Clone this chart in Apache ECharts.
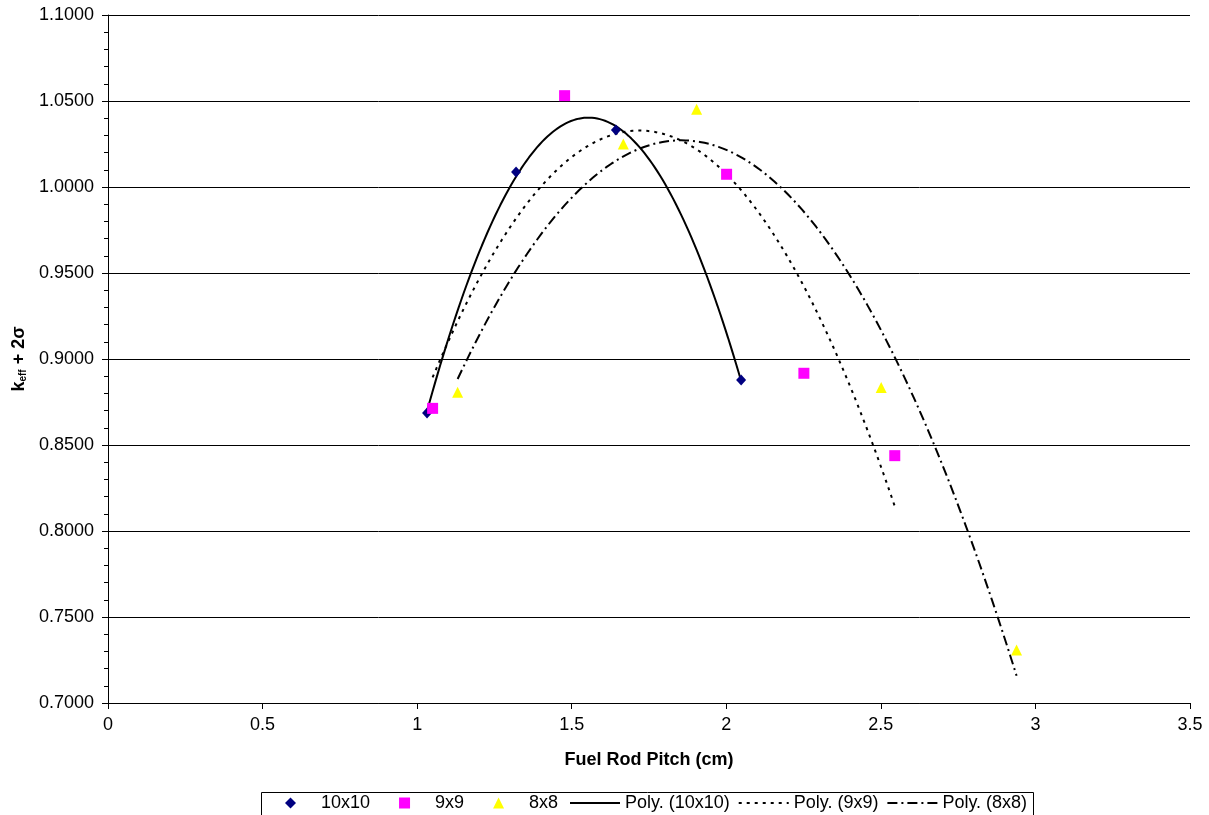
<!DOCTYPE html>
<html>
<head>
<meta charset="utf-8">
<script src="https://cdn.jsdelivr.net/npm/echarts@6/dist/echarts.min.js"></script>
<style>
  html, body { margin: 0; padding: 0; background: #ffffff; }
  #chart { width: 1209px; height: 815px; }
</style>
</head>
<body>
<div id="chart"></div>
<script>
// Fuel rod pitch (cm) and k_eff + 2 sigma for each lattice
const pitch10x10 = [1.032, 1.320, 1.643, 2.048];
const keff10x10  = [0.8686, 1.0087, 1.0331, 0.8878];

const pitch9x9 = [1.050, 1.477, 2.001, 2.251, 2.545];
const keff9x9  = [0.8713, 1.0531, 1.0074, 0.8917, 0.8438];

const pitch8x8 = [1.131, 1.667, 1.904, 2.501, 2.939];
const keff8x8  = [0.8806, 1.0250, 1.0452, 0.8835, 0.7308];

const latticeNames = ['10x10', '9x9', '8x8'];
const trendNames = ['Poly. (10x10)', 'Poly. (9x9)', 'Poly. (8x8)'];

const FONT = "'Liberation Sans', Arial, Helvetica, sans-serif";

function pairs(xs, ys) {
  return xs.map((x, i) => [x, ys[i]]);
}

// Second-order least-squares polynomial trendline, y = a + b x + c x^2
function quadFit(xs, ys) {
  const S = [0, 0, 0, 0, 0];
  const T = [0, 0, 0];
  xs.forEach((x, i) => {
    for (let k = 0; k < 5; k++) S[k] += Math.pow(x, k);
    for (let k = 0; k < 3; k++) T[k] += ys[i] * Math.pow(x, k);
  });
  const M = [[S[0], S[1], S[2], T[0]], [S[1], S[2], S[3], T[1]], [S[2], S[3], S[4], T[2]]];
  for (let c = 0; c < 3; c++) {
    let p = c;
    for (let r = c + 1; r < 3; r++) if (Math.abs(M[r][c]) > Math.abs(M[p][c])) p = r;
    [M[c], M[p]] = [M[p], M[c]];
    for (let r = 0; r < 3; r++) {
      if (r === c) continue;
      const f = M[r][c] / M[c][c];
      for (let k = c; k < 4; k++) M[r][k] -= f * M[c][k];
    }
  }
  return [M[0][3] / M[0][0], M[1][3] / M[1][1], M[2][3] / M[2][2]];
}

// Trendline drawn across the span of its own series
function trendline(xs, ys) {
  const [a, b, c] = quadFit(xs, ys);
  const lo = Math.min(...xs), hi = Math.max(...xs);
  const out = [];
  const n = 120;
  for (let i = 0; i <= n; i++) {
    const x = lo + (hi - lo) * i / n;
    out.push([x, a + b * x + c * x * x]);
  }
  return out;
}

const chart = echarts.init(document.getElementById('chart'), null, { renderer: 'canvas' });

const lineSeries = (name, data, type) => ({
  name: name,
  type: 'line',
  data: data,
  symbol: 'none',
  showSymbol: false,
  smooth: false,
  z: 2,
  silent: true,
  // transparent item colour keeps the legend line free of a marker dot
  itemStyle: { color: 'rgba(0,0,0,0)', borderColor: 'rgba(0,0,0,0)', borderWidth: 0 },
  lineStyle: { color: '#000000', width: 2, type: type },
  emphasis: { disabled: true }
});

const scatterSeries = (name, data, symbol, size, color) => ({
  name: name,
  type: 'scatter',
  data: data,
  symbol: symbol,
  symbolSize: size,
  z: 3,
  itemStyle: { color: color, opacity: 1 },
  emphasis: { disabled: true }
});

const legendText = { fontFamily: FONT, fontSize: 18, color: '#000' };

chart.setOption({
  animation: false,
  backgroundColor: '#ffffff',
  grid: { left: 108, right: 19, top: 15, bottom: 112, containLabel: false },
  xAxis: {
    type: 'value',
    min: 0,
    max: 3.5,
    interval: 0.5,
    name: 'Fuel Rod Pitch (cm)',
    nameLocation: 'middle',
    nameGap: 48,
    nameTextStyle: { fontFamily: FONT, fontSize: 18, fontWeight: 'bold', color: '#000' },
    axisLine: { show: true, onZero: false, lineStyle: { color: '#000', width: 1 } },
    axisTick: { show: true, inside: false, length: 6, lineStyle: { color: '#000', width: 1 } },
    axisLabel: { fontFamily: FONT, fontSize: 18, color: '#000', margin: 13 },
    splitLine: { show: false }
  },
  yAxis: {
    type: 'value',
    min: 0.7,
    max: 1.1,
    interval: 0.05,
    name: '{k|k}{s|eff}{n| + 2σ}',
    nameLocation: 'middle',
    nameRotate: 90,
    nameGap: 77,
    nameTextStyle: {
      rich: {
        k: { fontFamily: FONT, fontSize: 18, fontWeight: 'bold', color: '#000' },
        s: { fontFamily: FONT, fontSize: 10, fontWeight: 'bold', color: '#000', verticalAlign: 'bottom', padding: [8, 0, 0, 0] },
        n: { fontFamily: FONT, fontSize: 18, fontWeight: 'bold', color: '#000' }
      }
    },
    axisLine: { show: true, lineStyle: { color: '#000', width: 1 } },
    axisTick: { show: true, inside: false, length: 6, lineStyle: { color: '#000', width: 1 } },
    minorTick: { show: true, splitNumber: 5, length: 4, lineStyle: { color: '#000', width: 1 } },
    axisLabel: {
      fontFamily: FONT, fontSize: 18, color: '#000', margin: 14,
      formatter: v => v.toFixed(4)
    },
    splitLine: { show: true, lineStyle: { color: '#000', width: 1 } },
    minorSplitLine: { show: false }
  },
  legend: [
    {
      // marker entries
      show: true,
      left: 285,
      top: 794,
      orient: 'horizontal',
      padding: 0,
      itemWidth: 11,
      itemHeight: 11,
      itemGap: 29,
      selectedMode: false,
      textStyle: Object.assign({ padding: [0, 0, 0, 20] }, legendText),
      data: latticeNames.map(n => ({ name: n }))
    },
    {
      // trendline entries
      show: true,
      left: 569,
      top: 794,
      orient: 'horizontal',
      padding: 0,
      itemWidth: 50,
      itemHeight: 11,
      itemGap: 8,
      selectedMode: false,
      textStyle: legendText,
      data: trendNames.map(n => ({ name: n }))
    }
  ],
  graphic: [
    {
      type: 'rect',
      left: 259,
      top: 790,
      silent: true,
      shape: { width: 772, height: 40 },
      style: { fill: 'none', stroke: '#000', lineWidth: 1 }
    }
  ],
  series: [
    scatterSeries(latticeNames[0], pairs(pitch10x10, keff10x10), 'diamond', [10, 11], '#000080'),
    scatterSeries(latticeNames[1], pairs(pitch9x9, keff9x9), 'rect', 11, '#FF00FF'),
    scatterSeries(latticeNames[2], pairs(pitch8x8, keff8x8), 'triangle', 11, '#FFFF00'),
    lineSeries(trendNames[0], trendline(pitch10x10, keff10x10), 'solid'),
    lineSeries(trendNames[1], trendline(pitch9x9, keff9x9), [3, 5]),
    lineSeries(trendNames[2], trendline(pitch8x8, keff8x8), [10, 4, 2, 4])
  ]
});
</script>
</body>
</html>
